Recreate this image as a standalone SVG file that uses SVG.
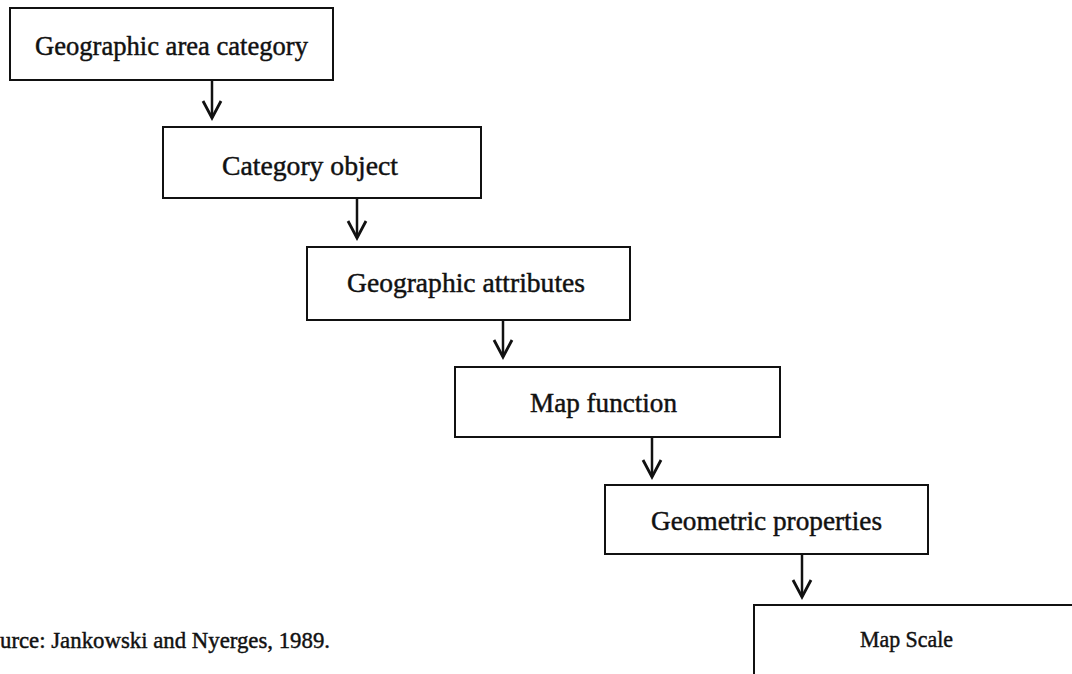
<svg xmlns="http://www.w3.org/2000/svg" width="1072" height="674" viewBox="0 0 1072 674">
  <style>
    .box { fill: #ffffff; stroke: #111111; stroke-width: 2; }
    .lbl { font-family: "Liberation Serif", "Times New Roman", serif; font-size: 27px; fill: #111111; stroke: #111111; stroke-width: 0.45; }
    .conn { stroke: #111111; stroke-width: 2.5; fill: none; }
  </style>
  <defs>
    <marker id="arrow" viewBox="-20 -12 24 24" refX="0" refY="0" markerWidth="24" markerHeight="24" markerUnits="userSpaceOnUse" orient="auto" overflow="visible">
      <path d="M -17,-9 L 0,0 L -17,9" fill="none" stroke="#111111" stroke-width="2.8"/>
    </marker>
  </defs>
  <rect width="1072" height="674" fill="#ffffff"/>

  <g id="n1">
    <rect class="box" x="10" y="8" width="323" height="72"/>
    <text class="lbl" x="35" y="55" textLength="273" lengthAdjust="spacingAndGlyphs">Geographic area category</text>
  </g>
  <g id="n2">
    <rect class="box" x="163" y="127" width="318" height="71"/>
    <text class="lbl" x="222" y="175" textLength="176" lengthAdjust="spacingAndGlyphs">Category object</text>
  </g>
  <g id="n3">
    <rect class="box" x="307" y="247" width="323" height="73"/>
    <text class="lbl" x="347" y="292" textLength="238" lengthAdjust="spacingAndGlyphs">Geographic attributes</text>
  </g>
  <g id="n4">
    <rect class="box" x="455" y="367" width="325" height="70"/>
    <text class="lbl" x="530" y="412" textLength="147" lengthAdjust="spacingAndGlyphs">Map function</text>
  </g>
  <g id="n5">
    <rect class="box" x="605" y="485" width="323" height="69"/>
    <text class="lbl" x="651" y="530" textLength="231" lengthAdjust="spacingAndGlyphs">Geometric properties</text>
  </g>
  <g id="n6">
    <rect class="box" x="754" y="605" width="400" height="200"/>
    <text class="lbl" x="860" y="647" style="font-size:24px" textLength="93" lengthAdjust="spacingAndGlyphs">Map Scale</text>
  </g>

  <g id="connectors">
    <line class="conn" x1="212" y1="80" x2="212" y2="118" marker-end="url(#arrow)"/>
    <line class="conn" x1="357" y1="198" x2="357" y2="238" marker-end="url(#arrow)"/>
    <line class="conn" x1="503" y1="320" x2="503" y2="357" marker-end="url(#arrow)"/>
    <line class="conn" x1="652" y1="437" x2="652" y2="477" marker-end="url(#arrow)"/>
    <line class="conn" x1="802" y1="554" x2="802" y2="597" marker-end="url(#arrow)"/>
  </g>

  <g id="source">
    <text class="lbl" x="0" y="648" style="font-size:24px" textLength="330" lengthAdjust="spacingAndGlyphs">urce: Jankowski and Nyerges, 1989.</text>
  </g>
</svg>
